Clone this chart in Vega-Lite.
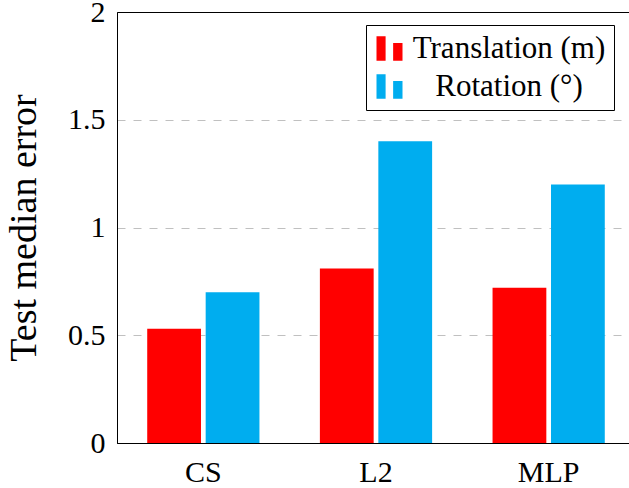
{
  "$schema": "https://vega.github.io/schema/vega-lite/v6.json",
  "width": 518,
  "height": 431,
  "autosize": "none",
  "padding": {"left": 117, "top": 12, "right": 0, "bottom": 45},
  "background": "white",
  "config": {
    "font": "Liberation Serif",
    "view": {"stroke": "black", "strokeWidth": 1},
    "axis": {"labelColor": "black", "titleColor": "black", "domainColor": "black", "domainWidth": 1, "labelFont": "Liberation Serif", "titleFont": "Liberation Serif"},
    "legend": {"labelFont": "Liberation Serif"}
  },
  "data": {
    "values": [
      {"method": "CS", "metric": "Translation (m)", "value": 0.53},
      {"method": "CS", "metric": "Rotation (°)", "value": 0.70},
      {"method": "L2", "metric": "Translation (m)", "value": 0.81},
      {"method": "L2", "metric": "Rotation (°)", "value": 1.40},
      {"method": "MLP", "metric": "Translation (m)", "value": 0.72},
      {"method": "MLP", "metric": "Rotation (°)", "value": 1.20}
    ]
  },
  "mark": {"type": "bar"},
  "encoding": {
    "x": {
      "field": "method",
      "type": "nominal",
      "sort": ["CS", "L2", "MLP"],
      "scale": {"paddingInner": 0.35, "paddingOuter": 0.175},
      "axis": {"title": null, "labelAngle": 0, "ticks": false, "labelFontSize": 30, "labelPadding": 14, "grid": false}
    },
    "xOffset": {
      "field": "metric",
      "sort": ["Translation (m)", "Rotation (°)"],
      "scale": {"paddingInner": 0.08, "paddingOuter": 0}
    },
    "y": {
      "field": "value",
      "type": "quantitative",
      "scale": {"domain": [0, 2]},
      "axis": {
        "title": "Test median error",
        "titleFontSize": 38,
        "titleFontWeight": "normal",
        "titlePadding": 24,
        "values": [0, 0.5, 1, 1.5, 2],
        "format": "~g",
        "ticks": false,
        "labelFontSize": 30,
        "labelPadding": 12,
        "grid": true,
        "gridDash": [8, 8],
        "gridColor": "#c0c0c0",
        "gridOpacity": {"condition": {"test": "datum.value == 0 || datum.value == 2", "value": 0}, "value": 1}
      }
    },
    "color": {
      "field": "metric",
      "type": "nominal",
      "sort": ["Translation (m)", "Rotation (°)"],
      "scale": {"range": ["#ff0000", "#00adef"]},
      "legend": {
        "title": null,
        "orient": "none",
        "legendX": 249,
        "legendY": 13,
        "direction": "vertical",
        "strokeColor": "black",
        "fillColor": "white",
        "padding": 8,
        "symbolType": "M-1,-0.95H-0.3V0.95H-1Z M0.28,-0.43H1V0.95H0.28Z",
        "symbolSize": 676,
        "symbolStrokeWidth": 0,
        "labelFontSize": 31,
        "labelColor": "black",
        "labelAlign": "center",
        "labelOffset": 104,
        "labelLimit": 400,
        "rowPadding": 6
      }
    }
  }
}
